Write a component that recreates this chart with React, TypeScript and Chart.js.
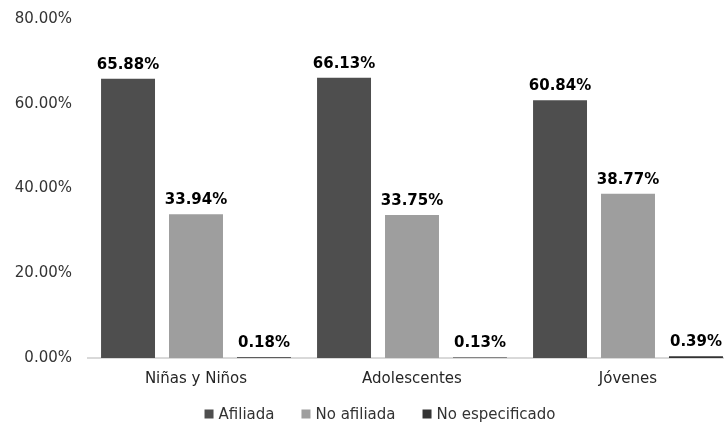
import React, { useEffect, useRef } from 'react';
import { Chart, registerables } from 'chart.js';

Chart.register(...registerables);

const categories = ['Niñas y Niños', 'Adolescentes', 'Jóvenes'];
const seriesNames = ['Afiliada', 'No afiliada', 'No especificado'];
const afiliada = [65.88, 66.13, 60.84];
const noAfiliada = [33.94, 33.75, 38.77];
const noEspecificado = [0.18, 0.13, 0.39];
const yMin = 0;
const yMax = 80;
const yStep = 20;
const seriesColors = ['#4e4e4e', '#9e9e9e', '#333333'];

const FONT = '"DejaVu Sans", sans-serif';
const CANVAS_W = 760;
const CANVAS_H = 429;
const SHIFT = 6;

const valueLabels = {
  id: 'valueLabels',
  afterDatasetsDraw(chart: any) {
    const ctx = chart.ctx;
    ctx.save();
    ctx.font = `bold 15px ${FONT}`;
    ctx.fillStyle = '#000000';
    ctx.textAlign = 'center';
    ctx.textBaseline = 'alphabetic';
    chart.data.datasets.forEach((ds: any, i: number) => {
      const meta = chart.getDatasetMeta(i);
      meta.data.forEach((bar: any, j: number) => {
        const v = ds.data[j] as number;
        ctx.fillText(v.toFixed(2) + '%', bar.x, bar.y - 10);
      });
    });
    ctx.restore();
  },
};

const customLegend = {
  id: 'customLegend',
  afterDraw(chart: any) {
    const ctx = chart.ctx;
    ctx.save();
    ctx.font = `15px ${FONT}`;
    ctx.textBaseline = 'middle';
    ctx.textAlign = 'left';
    const box = 9;
    const gap = 5;
    const itemGap = 27;
    const items = chart.data.datasets.map((ds: any) => ({
      label: ds.label as string,
      color: ds.backgroundColor as string,
      w: box + gap + ctx.measureText(ds.label).width,
    }));
    const total = items.reduce((s: number, it: any) => s + it.w, 0) + itemGap * (items.length - 1);
    let x = chart.width / 2 - total / 2;
    const cy = 414 + SHIFT;
    items.forEach((it: any) => {
      ctx.fillStyle = it.color;
      ctx.fillRect(x, cy - box / 2, box, box);
      ctx.fillStyle = '#333333';
      ctx.fillText(it.label, x + box + gap, cy + 1);
      x += it.w + itemGap;
    });
    ctx.restore();
  },
};

export default function App() {
  const ref = useRef<HTMLCanvasElement | null>(null);

  useEffect(() => {
    if (!ref.current) return;
    const values = [afiliada, noAfiliada, noEspecificado];
    const chart = new Chart(ref.current, {
      type: 'bar',
      data: {
        labels: categories,
        datasets: seriesNames.map((name, i) => ({
          label: name,
          data: values[i],
          backgroundColor: seriesColors[i],
          borderWidth: 0,
          categoryPercentage: 0.944,
          barPercentage: 0.794,
        })),
      },
      options: {
        animation: false,
        responsive: false,
        devicePixelRatio: 1,
        layout: { padding: { left: 8, top: 11, right: 24, bottom: 25 } },
        plugins: {
          legend: { display: false },
          tooltip: { enabled: false },
        },
        scales: {
          x: {
            grid: { display: false, drawTicks: false },
            border: { display: true, color: '#d9d9d9', width: 2 },
            ticks: {
              font: { family: FONT, size: 15 },
              color: '#262626',
              padding: 12,
              maxRotation: 0,
            },
            afterFit: (s: any) => {
              s.height = 40;
            },
          },
          y: {
            min: yMin,
            max: yMax,
            grid: { display: false, drawTicks: false },
            border: { display: false },
            ticks: {
              stepSize: yStep,
              font: { family: FONT, size: 15 },
              color: '#333333',
              padding: 16,
              callback: (v: any) => Number(v).toFixed(2) + '%',
            },
            afterFit: (s: any) => {
              s.width = 80;
            },
          },
        },
      },
      plugins: [valueLabels, customLegend],
    });
    return () => chart.destroy();
  }, []);

  return (
    <div
      style={{
        position: 'fixed',
        left: 0,
        top: 0,
        width: 724,
        height: 423,
        overflow: 'hidden',
        background: '#ffffff',
      }}
    >
      <canvas
        ref={ref}
        width={CANVAS_W}
        height={CANVAS_H}
        style={{ width: CANVAS_W, height: CANVAS_H, display: 'block', marginTop: -SHIFT }}
      />
    </div>
  );
}
